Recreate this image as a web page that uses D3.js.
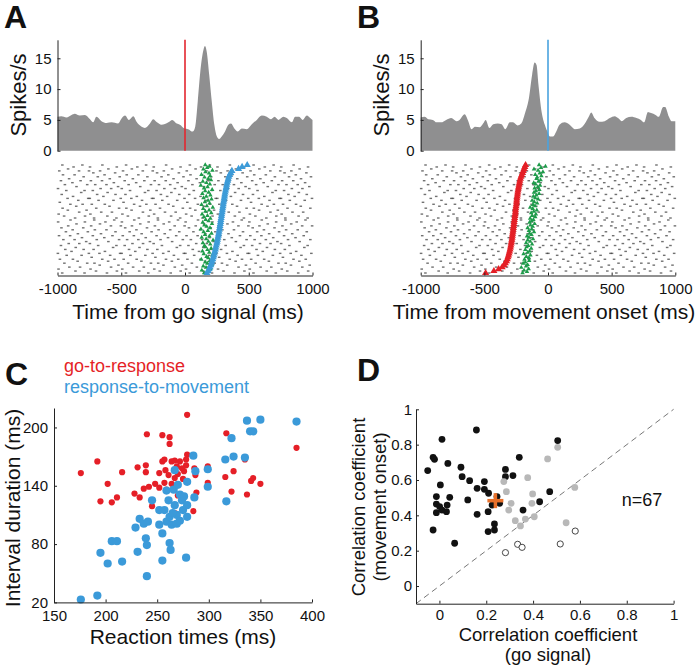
<!DOCTYPE html>
<html><head><meta charset="utf-8">
<script src="https://cdn.jsdelivr.net/npm/d3@7"></script>
<style>body{margin:0;background:#fff}</style>
</head><body><svg id="c" width="700" height="667"></svg>
<script>
// ---------- DATA ----------
const psthTimesA = [-1000,-970,-930,-890,-865,-825,-785,-745,-720,-695,-655,-615,-575,-525,-495,-470,-440,-405,-380,-340,-315,-275,-250,-220,-185,-130,-100,-65,-40,-5,25,60,80,100,120,145,157,170,190,210,230,250,267,288,314,340,361,387,414,445,484,524,563,602,641,675,702,733,772,798,838,864,895,922,956,982,1000];
const psthRatesA = [5.5,5.6,5.4,5.8,6.0,5.7,5.8,5.1,4.6,5.5,4.8,4.5,4.6,4.4,5.3,5.7,5.0,5.6,4.7,3.9,3.7,4.4,5.1,4.6,4.2,4.6,5.0,4.4,4.2,3.6,3.5,3.1,3.9,8.0,12.8,16.4,17.0,16.1,12.3,8.0,4.2,2.3,1.9,2.3,3.1,4.2,4.4,3.6,3.1,3.6,3.5,4.3,5.0,5.7,5.5,5.1,5.5,5.0,5.5,5.3,4.6,5.5,5.5,5.0,5.7,5.3,5.0];
const psthTimesB = [-1000,-970,-940,-905,-875,-840,-800,-760,-720,-695,-655,-630,-600,-575,-535,-510,-490,-460,-430,-395,-365,-335,-300,-275,-240,-210,-180,-150,-125,-105,-90,-75,-50,-25,-5,15,40,65,90,130,170,210,250,290,320,340,365,405,445,485,525,550,580,615,655,695,730,755,785,810,845,870,905,920,950,970,1000];
const psthRatesB = [5.4,5.5,5.1,5.0,4.6,4.6,5.0,5.3,4.8,5.0,5.9,5.0,3.5,3.9,3.8,4.4,5.0,3.7,4.3,4.4,4.3,3.5,4.6,4.6,4.1,4.4,6.1,8.5,12.3,14.3,13.9,10.7,6.3,4.2,3.1,2.3,2.3,3.1,4.2,4.6,4.2,3.5,3.6,4.4,5.5,6.2,5.3,4.7,4.8,5.3,5.6,5.3,4.8,5.3,5.5,5.3,5.0,4.6,6.3,6.1,5.8,5.5,7.1,7.1,5.5,4.8,4.8];
const psthTicks = [0,5,10,15];
const timeTicks = [-1000,-500,0,500,1000];

// movement onset per trial (A, aligned to go), bottom trial first
const moveTimesA = [172,180,188,196,202,208,213,218,222,226,230,234,238,241,245,249,252,255,258,261,264,267,269,272,274,277,279,281,284,286,288,291,293,295,298,300,302,305,307,310,312,315,318,321,324,327,331,335,339,344,350,358,368,420,448,488];
// go signal per trial (B, aligned to movement onset), bottom trial first
const goTimesB = [-490,-425,-388,-360,-345,-335,-326,-320,-315,-310,-306,-302,-298,-295,-292,-289,-287,-284,-282,-280,-278,-276,-274,-272,-270,-268,-266,-264,-262,-260,-258,-256,-255,-253,-251,-249,-247,-246,-244,-242,-240,-238,-236,-233,-230,-227,-224,-221,-217,-212,-206,-200,-194,-188,-182,-176];
// neuronal response marks (green)
const respTimesA = [150,188,132,201,165,143,210,176,158,195,128,182,169,214,147,190,137,176,205,161,152,198,140,183,220,166,131,191,157,208,146,179,125,196,170,152,212,139,185,162,199,148,176,134,206,160,189,143,218,171,130,193,156,181,208,145,167,199,136,186,158,213,149,177,124,195,168,140,204,183,153,197,129,188,161,215,144,174,192,159];
const respTimesB = [-200,-165,-188,-152,-210,-172,-160,-195,-178,-148,-185,-150,-170,-138,-192,-160,-145,-178,-132,-168,-155,-125,-172,-140,-160,-118,-150,-165,-130,-145,-110,-150,-128,-160,-120,-138,-105,-145,-130,-115,-140,-100,-125,-95,-132,-112,-88,-120,-140,-102,-118,-85,-108,-125,-78,-100,-115,-92,-70,-110,-95,-68,-105,-80,-62,-98,-112,-75,-58,-90,-85,-52,-100,-65,-40,-78,-110,-55,-20,-70];
// background spike raster texture: spike times (ms) within a 500-ms x 28-trial block, one list per trial row
const spikeRows = [[37,212,388],[141,302,466],[8,259],[93,177,420],[331,478],[54,233,290],[158,397],[19,121,351,447],[268],[72,189,413],[3,246,329,491],[110,372],[61,205,283],[143,436],[27,319,462],[88,171,254],[225,399],[46,134,308,483],[192,367],[12,99,277,431],[160,341],[66,238,455],[119,293,384],[31,202],[84,264,419,497],[149,333],[5,215,376],[102,288,445]];
const spikeBlockOrigins = [[-1000,0],[-500,0],[0,0],[500,0],[-1250,28],[-750,28],[-250,28],[250,28],[750,28]];

// Panel C
const goRespRT  = [176,192,195,202,206,211,216,228,231,233,240,239,239,237,242,252,252,255,255,257,258,262,262,261,264,267,269,279,279,278,278,276,275,272,274,267,266,264,259,261,245,267,270,285,288,286,287,299,299,317,316,324,322,335,337,341,343,350,385,257,248,270];
const goRespDur = [153,165,124,142,123,128,154,132,159,128,193,161,154,137,139,153,138,192,165,143,156,190,183,151,165,166,160,213,172,167,161,155,147,165,158,148,137,142,136,125,119,112,130,114,133,158,151,160,143,194,149,155,134,167,131,145,148,142,179,167,142,152];
const respMoveRT  = [176,192,195,202,206,211,216,229,231,233,237,239,240,240,241,245,252,252,255,255,257,259,261,259,262,262,263,264,266,267,267,269,269,270,272,274,275,279,279,278,279,276,285,286,287,299,299,316,317,322,324,335,337,340,343,350,385,265,272];
const respMoveDur = [23,27,71,60,83,83,62,97,72,106,101,86,79,47,103,125,100,115,91,63,115,135,125,103,108,81,74,100,136,156,120,101,110,141,131,125,115,144,108,66,120,129,171,128,155,157,139,167,124,189,170,169,207,196,196,208,206,112,104];
const cXTicks = [150,200,250,300,350,400];
const cYTicks = [20,80,140,200];

// Panel D
const sigMoveX = [-0.05,-0.027,-0.021,0.011,0.036,0.004,-0.013,-0.013,0.001,-0.013,0.011,0.033,0.03,0.044,-0.027,0.065,0.092,0.097,0.121,0.129,0.161,0.158,0.161,0.192,0.192,0.21,0.208,0.208,0.235,0.235,0.225,0.246,0.257,0.282,0.282,0.314,0.341,0.357,0.428,0.471,0.505];
const sigMoveY = [0.653,0.728,0.717,0.83,0.694,0.572,0.506,0.464,0.449,0.415,0.43,0.458,0.421,0.502,0.317,0.242,0.672,0.619,0.487,0.596,0.553,0.883,0.406,0.591,0.547,0.525,0.421,0.308,0.351,0.317,0.458,0.506,0.468,0.66,0.619,0.625,0.728,0.43,0.477,0.534,0.823];
const nsX = [0.275,0.286,0.306,0.296,0.324,0.346,0.367,0.377,0.395,0.398,0.405,0.462,0.505,0.541,0.578];
const nsY = [0.591,0.534,0.468,0.43,0.37,0.34,0.379,0.613,0.468,0.521,0.392,0.719,0.785,0.358,0.558];
const sigGoX = [0.282,0.334,0.353,0.516,0.58];
const sigGoY = [0.189,0.236,0.219,0.238,0.311];
const meanD = [0.239, 0.483];
const dTicks = [0,0.2,0.4,0.6,0.8,1];

// ---------- DRAW ----------
const FONT = '"Liberation Sans", Arial, Helvetica, sans-serif';
const svg = d3.select("#c").style("font-family", FONT);
const AX = "#222";
function styleAxis(g, fs) {
  g.select(".domain").attr("stroke", AX).attr("stroke-width", 1);
  g.selectAll(".tick line").attr("stroke", AX);
  g.selectAll(".tick text").attr("font-size", fs).attr("fill", "#111").attr("font-family", FONT);
}
function txt(x, y, s, size, opts = {}) {
  const t = svg.append("text").attr("x", x).attr("y", y).text(s)
    .attr("font-size", size).attr("fill", opts.fill || "#111")
    .attr("text-anchor", opts.anchor || "start")
    .attr("font-weight", opts.bold ? "bold" : "normal");
  if (opts.rot) t.attr("transform", `rotate(-90,${x},${y})`);
  return t;
}

function psthPanel(o) {
  const x = d3.scaleLinear().domain([-1000, 1000]).range(o.xr);
  const y = d3.scaleLinear().domain([0, 18]).range([150.7, 39.8]);
  const pts = o.times.map((t, i) => [t, o.rates[i]]);
  svg.append("path").datum(pts)
    .attr("d", d3.area().x(d => x(d[0])).y0(y(0)).y1(d => y(d[1])).curve(d3.curveMonotoneX))
    .attr("fill", "#8f8f90");
  svg.append("line").attr("x1", x(0)).attr("x2", x(0)).attr("y1", y(0)).attr("y2", y(18))
    .attr("stroke", o.lineColor).attr("stroke-width", 1.6);
  const ya = svg.append("g").attr("transform", `translate(${o.xr[0]},0)`)
    .call(d3.axisLeft(y).tickValues(psthTicks).tickSizeInner(-3).tickSizeOuter(0).tickPadding(6));
  styleAxis(ya, 15);
  txt(o.ylabX, 95, "Spikes/s", 22, { anchor: "middle", rot: true });

  // raster
  const ty = d3.scaleLinear().domain([0, 55]).range([273, 165]);
  const spikes = [];
  spikeBlockOrigins.forEach(([bx, by]) =>
    spikeRows.forEach((row, r) => row.forEach(ms => {
      const t = bx + ms, tr = by + r;
      if (t >= -1000 && t <= 1000 && tr <= 55) spikes.push([t, tr]);
    })));
  svg.append("g").selectAll("rect").data(spikes).join("rect")
    .attr("x", d => x(d[0]) - 1.3).attr("y", d => ty(d[1]) - 0.7)
    .attr("width", 2.6).attr("height", 1.4).attr("fill", "#3a3a3a").attr("opacity", 0.72);
  const gy = d3.scaleLinear().domain([0, o.resp.length - 1]).range([273, 165]);
  svg.append("g").selectAll("path").data(o.resp).join("path")
    .attr("d", d3.symbol(d3.symbolTriangle, 9))
    .attr("transform", (d, i) => `translate(${x(d)},${gy(i)})`)
    .attr("fill", "#1e9b4a");
  svg.append("g").selectAll("path").data(o.marks).join("path")
    .attr("d", d3.symbol(d3.symbolTriangle, 22))
    .attr("transform", (d, i) => `translate(${x(d)},${ty(i)})`)
    .attr("fill", o.markColor);
  const xa = svg.append("g").attr("transform", "translate(0,275.5)")
    .call(d3.axisBottom(x).tickValues(timeTicks).tickFormat(d => String(d)).tickSizeInner(-3).tickSizeOuter(0).tickPadding(8));
  styleAxis(xa, 15);
  txt(o.xlabX, 319, o.xlabel, 21, { anchor: "middle" });
  txt(o.letterX, 28, o.letter, 32, { bold: true });
}

psthPanel({ xr: [57.5, 312.5], times: psthTimesA, rates: psthRatesA, lineColor: "#e3262f",
  marks: moveTimesA, markColor: "#3d9bd8", resp: respTimesA, ylabX: 26,
  xlabel: "Time from go signal (ms)", xlabX: 188, letter: "A", letterX: 4 });
psthPanel({ xr: [420.7, 675.3], times: psthTimesB, rates: psthRatesB, lineColor: "#4aa3df",
  marks: goTimesB, markColor: "#e41f26", resp: respTimesB, ylabX: 389,
  xlabel: "Time from movement onset (ms)", xlabX: 544, letter: "B", letterX: 357 });

// Panel C
{
  const x = d3.scaleLinear().domain([150, 400]).range([54, 312]);
  const y = d3.scaleLinear().domain([20, 220]).range([602.4, 408]);
  svg.append("g").selectAll("circle").data(goRespRT).join("circle")
    .attr("cx", d => x(d)).attr("cy", (d, i) => y(goRespDur[i])).attr("r", 3.1).attr("fill", "#e51f27");
  svg.append("g").selectAll("circle").data(respMoveRT).join("circle")
    .attr("cx", d => x(d)).attr("cy", (d, i) => y(respMoveDur[i])).attr("r", 4.1).attr("fill", "#3b9ad9");
  const xa = svg.append("g").attr("transform", "translate(0,602.4)")
    .call(d3.axisBottom(x).tickValues(cXTicks).tickSizeInner(-3).tickSizeOuter(0).tickPadding(8));
  styleAxis(xa, 15);
  const ya = svg.append("g").attr("transform", "translate(54,0)")
    .call(d3.axisLeft(y).tickValues(cYTicks).tickSizeInner(-3).tickSizeOuter(0).tickPadding(6));
  styleAxis(ya, 15);
  txt(183, 644, "Reaction times (ms)", 21, { anchor: "middle" });
  txt(20, 508, "Interval duration (ms)", 21, { anchor: "middle", rot: true });
  txt(64, 372, "go-to-response", 18, { fill: "#e51f27" });
  txt(64, 393, "response-to-movement", 18, { fill: "#3b9ad9" });
  txt(5, 385, "C", 32, { bold: true });
}

// Panel D
{
  const x = d3.scaleLinear().domain([-0.1, 1]).range([416, 673.6]);
  const y = d3.scaleLinear().domain([-0.1, 1]).range([603.7, 409.3]);
  svg.append("line").attr("x1", x(-0.1)).attr("y1", y(-0.1)).attr("x2", x(1)).attr("y2", y(1))
    .attr("stroke", "#777").attr("stroke-width", 1).attr("stroke-dasharray", "6,4");
  svg.append("g").selectAll("circle").data(sigMoveX).join("circle")
    .attr("cx", d => x(d)).attr("cy", (d, i) => y(sigMoveY[i])).attr("r", 3.4).attr("fill", "#111");
  svg.append("g").selectAll("circle").data(nsX).join("circle")
    .attr("cx", d => x(d)).attr("cy", (d, i) => y(nsY[i])).attr("r", 3.4).attr("fill", "#b8b8b8");
  svg.append("g").selectAll("circle").data(sigGoX).join("circle")
    .attr("cx", d => x(d)).attr("cy", (d, i) => y(sigGoY[i])).attr("r", 3.1)
    .attr("fill", "#fff").attr("stroke", "#333").attr("stroke-width", 0.9);
  const cx = x(meanD[0]), cy = y(meanD[1]);
  svg.append("line").attr("x1", cx - 8).attr("x2", cx + 8).attr("y1", cy).attr("y2", cy)
    .attr("stroke", "#e8702a").attr("stroke-width", 3.5);
  svg.append("line").attr("x1", cx).attr("x2", cx).attr("y1", cy - 7.5).attr("y2", cy + 7.5)
    .attr("stroke", "#e8702a").attr("stroke-width", 3.5);
  const xa = svg.append("g").attr("transform", "translate(0,603.7)")
    .call(d3.axisBottom(x).tickValues(dTicks).tickFormat(d => String(d)).tickSizeInner(-3).tickSizeOuter(0).tickPadding(6));
  styleAxis(xa, 15);
  const ya = svg.append("g").attr("transform", "translate(416,0)")
    .call(d3.axisLeft(y).tickValues(dTicks).tickFormat(d => String(d)).tickSizeInner(-3).tickSizeOuter(0).tickPadding(4));
  styleAxis(ya, 15);
  txt(642, 506, "n=67", 18, { anchor: "middle" });
  txt(548, 641, "Correlation coefficient", 18.5, { anchor: "middle" });
  txt(548, 661, "(go signal)", 18.5, { anchor: "middle" });
  txt(365, 507, "Correlation coefficient", 18.5, { anchor: "middle", rot: true });
  txt(386, 507, "(movement onset)", 18.5, { anchor: "middle", rot: true });
  txt(357, 381, "D", 32, { bold: true });
}
</script>
</body></html>
